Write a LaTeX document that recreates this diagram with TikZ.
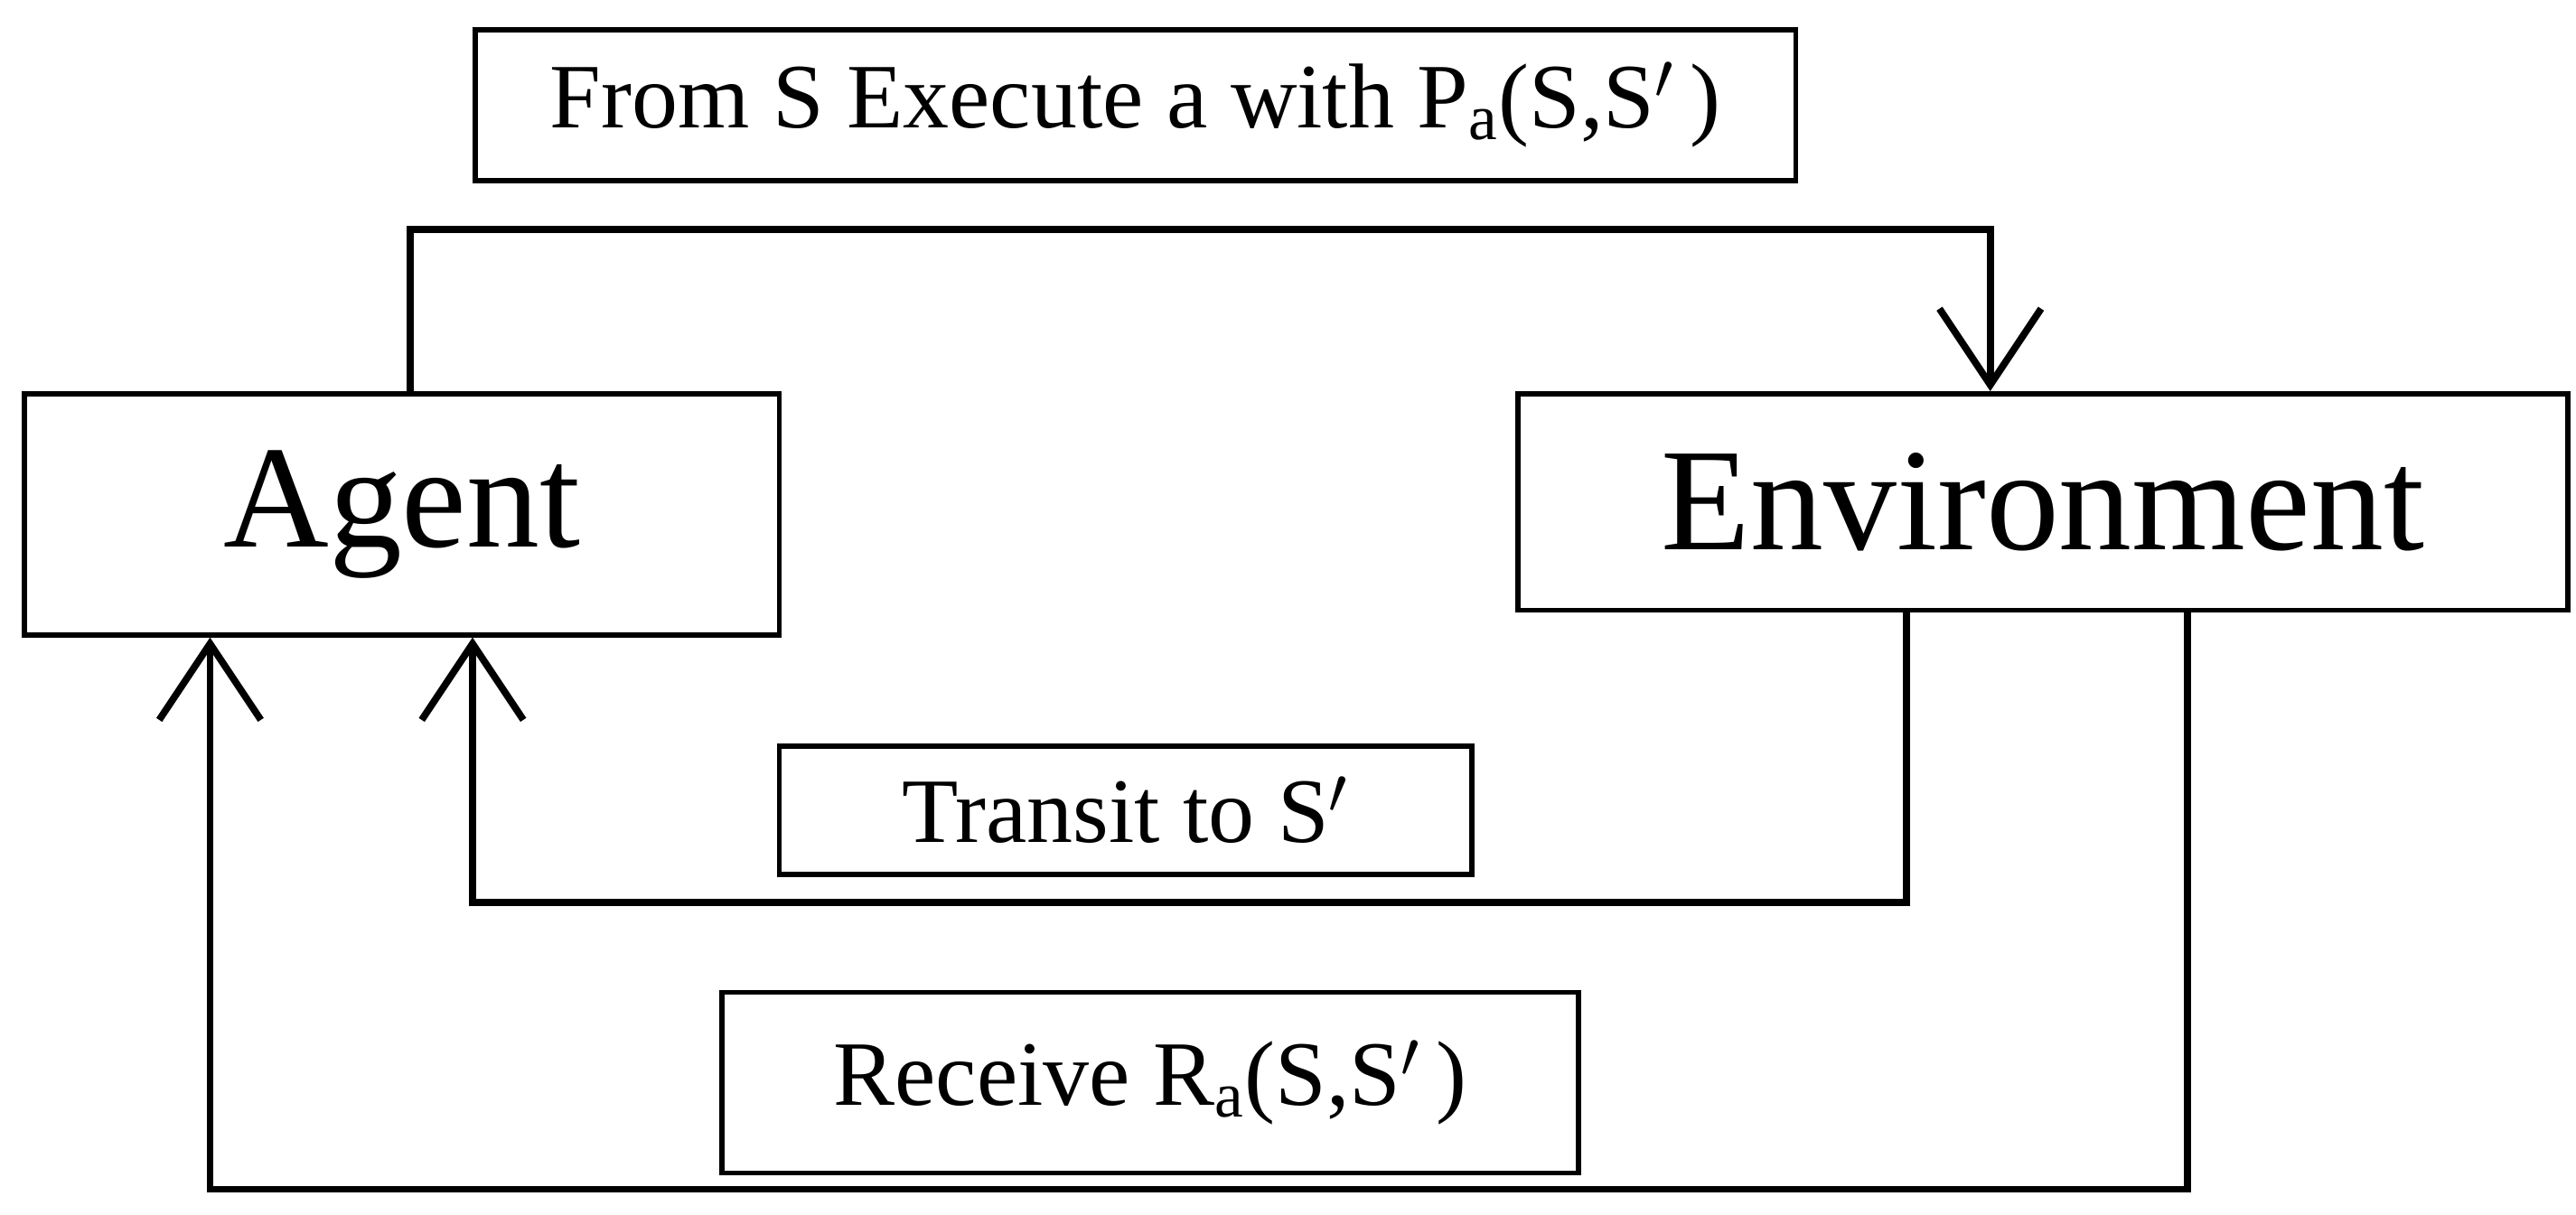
\documentclass[tikz,border=0pt]{standalone}
\usepackage{fontspec}
\setmainfont{Liberation Serif}
\usetikzlibrary{arrows.meta}
\begin{document}
\begin{tikzpicture}[x=0.01816cm,y=-0.01816cm,
  box/.style={draw,line width=1.6pt,inner sep=0pt},
  conn/.style={line width=2.2pt,-{Straight Barb[length=24pt,width=32pt,line width=2.2pt]}},
  lbl/.style={font=\fontsize{29}{34}\selectfont},
  big/.style={font=\fontsize{46}{52}\selectfont}]
\useasboundingbox (0,0) rectangle (1570,740.6);
\node[box,minimum width=805*0.01816cm,minimum height=92*0.01816cm,lbl] (top) at (692,64) {From S Execute a with P\textsubscript{a}(S,S$'$\,)};
\node[box,minimum width=460*0.01816cm,minimum height=147*0.01816cm,big] (agent) at (245,313.5) {Agent};
\node[box,minimum width=640*0.01816cm,minimum height=132*0.01816cm,big] (env) at (1245,306) {Environment};
\node[box,minimum width=422*0.01816cm,minimum height=78*0.01816cm,lbl] (tr) at (686,494) {Transit to S$'$};
\node[box,minimum width=522*0.01816cm,minimum height=110*0.01816cm,lbl] (rc) at (701,660) {Receive R\textsubscript{a}(S,S$'$\,)};
\coordinate (a1) at (250,140);
\coordinate (a2) at (1213,140);
\draw[conn] (agent.north -| 250,0) -- (a1) -- (a2) -- (env.north -| 1213,0);
\coordinate (b1) at (1162,550);
\coordinate (b2) at (288,550);
\draw[conn] (env.south -| 1162,0) -- (b1) -- (b2) -- (agent.south -| 288,0);
\coordinate (c1) at (1333,725);
\coordinate (c2) at (128,725);
\draw[conn] (env.south -| 1333,0) -- (c1) -- (c2) -- (agent.south -| 128,0);
\end{tikzpicture}
\end{document}
